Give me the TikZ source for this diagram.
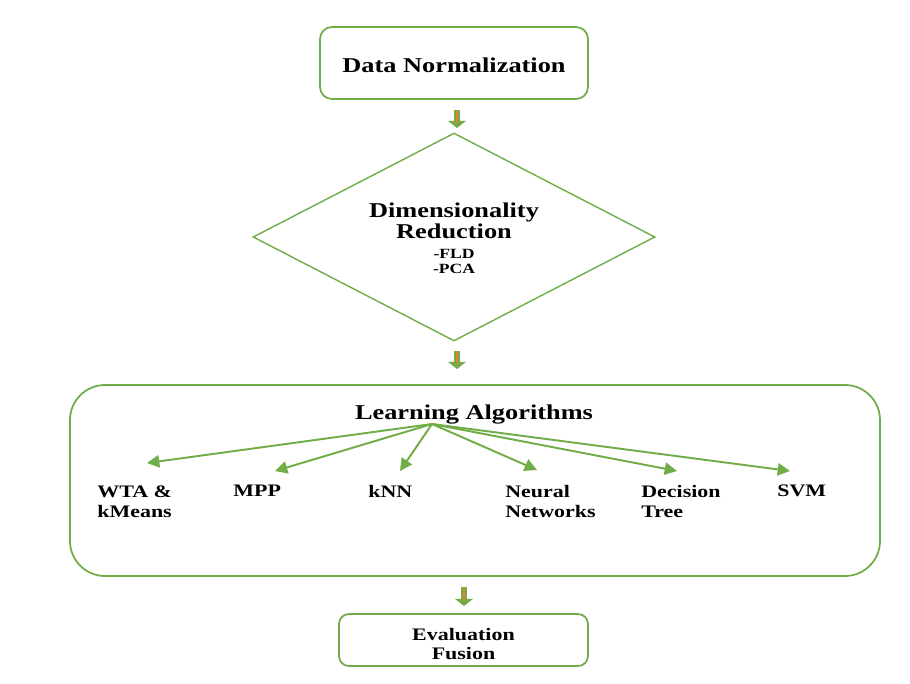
\documentclass[tikz,border=0pt]{standalone}
\usepackage{fontspec}
\setmainfont{Liberation Serif}[FakeStretch=1.25]
\usetikzlibrary{shapes.geometric,arrows.meta}

\definecolor{flowgreen}{HTML}{70AD47}
\definecolor{floworange}{HTML}{ED7D31}

\begin{document}
\begin{tikzpicture}[
    stagebox/.style={draw=flowgreen, line width=1pt, rounded corners=0.24cm},
    fanarrow/.style={draw=flowgreen, line width=1.1pt,
      -{Triangle[length=7pt,width=7pt]}},
    algolabel/.style={anchor=north west, align=left, inner sep=0pt,
      font=\bfseries\fontsize{10}{11.5}\selectfont},
    bigarrow/.style={draw=flowgreen, line width=3.4pt,
      -{Triangle[length=4pt,width=10pt]}},
    bigcore/.style={draw=floworange, line width=0.9pt}
  ]
  \useasboundingbox (0,0) rectangle (18.2,-13.68);

  % stages
  \node[stagebox, minimum width=5.36cm, minimum height=1.44cm] (norm)
    at (9.08,-1.26) {};
  \node[font=\bfseries\fontsize{12}{14}\selectfont] (normtext)
    at (9.08,-1.3) {Data Normalization};
  \node[draw=flowgreen, line width=0.8pt, shape=diamond, inner sep=0pt,
    minimum width=8.04cm, minimum height=4.16cm] (dimred) at (9.08,-4.74) {};
  \node[align=center, font=\bfseries\fontsize{12}{12}\selectfont] (dimtext)
    at (9.08,-4.41) {Dimensionality\\Reduction};
  \node[align=center, font=\bfseries\fontsize{8}{8.5}\selectfont] (dimlist)
    at (9.08,-5.23) {-FLD\\-PCA};
  \node[draw=flowgreen, line width=1pt, rounded corners=0.7cm,
    minimum width=16.2cm, minimum height=3.82cm] (learn) at (9.5,-9.61) {};
  \node[font=\bfseries\fontsize{12}{14}\selectfont] (learntext)
    at (9.48,-8.3) {Learning Algorithms};
  \node[stagebox, rounded corners=0.2cm, minimum width=4.98cm,
    minimum height=1.04cm] (evalf) at (9.27,-12.8) {};
  \node[align=center, font=\bfseries\fontsize{10}{10.8}\selectfont]
    (evaltext) at (9.27,-12.88) {Evaluation\\Fusion};

  % arrows between stages
  \coordinate (a1s) at (9.14,-2.2);  \coordinate (a1e) at (9.14,-2.56);
  \coordinate (a2s) at (9.14,-7.02); \coordinate (a2e) at (9.14,-7.38);
  \coordinate (a3s) at (9.28,-11.74); \coordinate (a3e) at (9.28,-12.12);
  \draw[bigarrow] (a1s) -- (a1e);
  \draw[bigcore] (a1s) -- ([yshift=0.1cm]a1e);
  \draw[bigarrow] (a2s) -- (a2e);
  \draw[bigcore] (a2s) -- ([yshift=0.1cm]a2e);
  \draw[bigarrow] (a3s) -- (a3e);
  \draw[bigcore] (a3s) -- ([yshift=0.1cm]a3e);

  % algorithms
  \node[algolabel] (wta) at (1.94,-9.7) {WTA \&\\kMeans};
  \node[algolabel] (mpp) at (4.66,-9.7) {MPP};
  \node[algolabel] (knn) at (7.36,-9.7) {kNN};
  \node[algolabel] (nnet) at (10.1,-9.7) {Neural\\Networks};
  \node[algolabel] (dtree) at (12.82,-9.7) {Decision\\Tree};
  \node[algolabel] (svm) at (15.54,-9.7) {SVM};

  \coordinate (hub) at (8.64,-8.48);
  \coordinate (twta) at (2.94,-9.26);
  \coordinate (tmpp) at (5.5,-9.42);
  \coordinate (tknn) at (8.0,-9.42);
  \coordinate (tnnet) at (10.74,-9.40);
  \coordinate (tdtree) at (13.54,-9.42);
  \coordinate (tsvm) at (15.8,-9.42);
  \foreach \t in {twta,tmpp,tknn,tnnet,tdtree,tsvm}
    \draw[fanarrow] (hub) -- (\t);
\end{tikzpicture}
\end{document}
